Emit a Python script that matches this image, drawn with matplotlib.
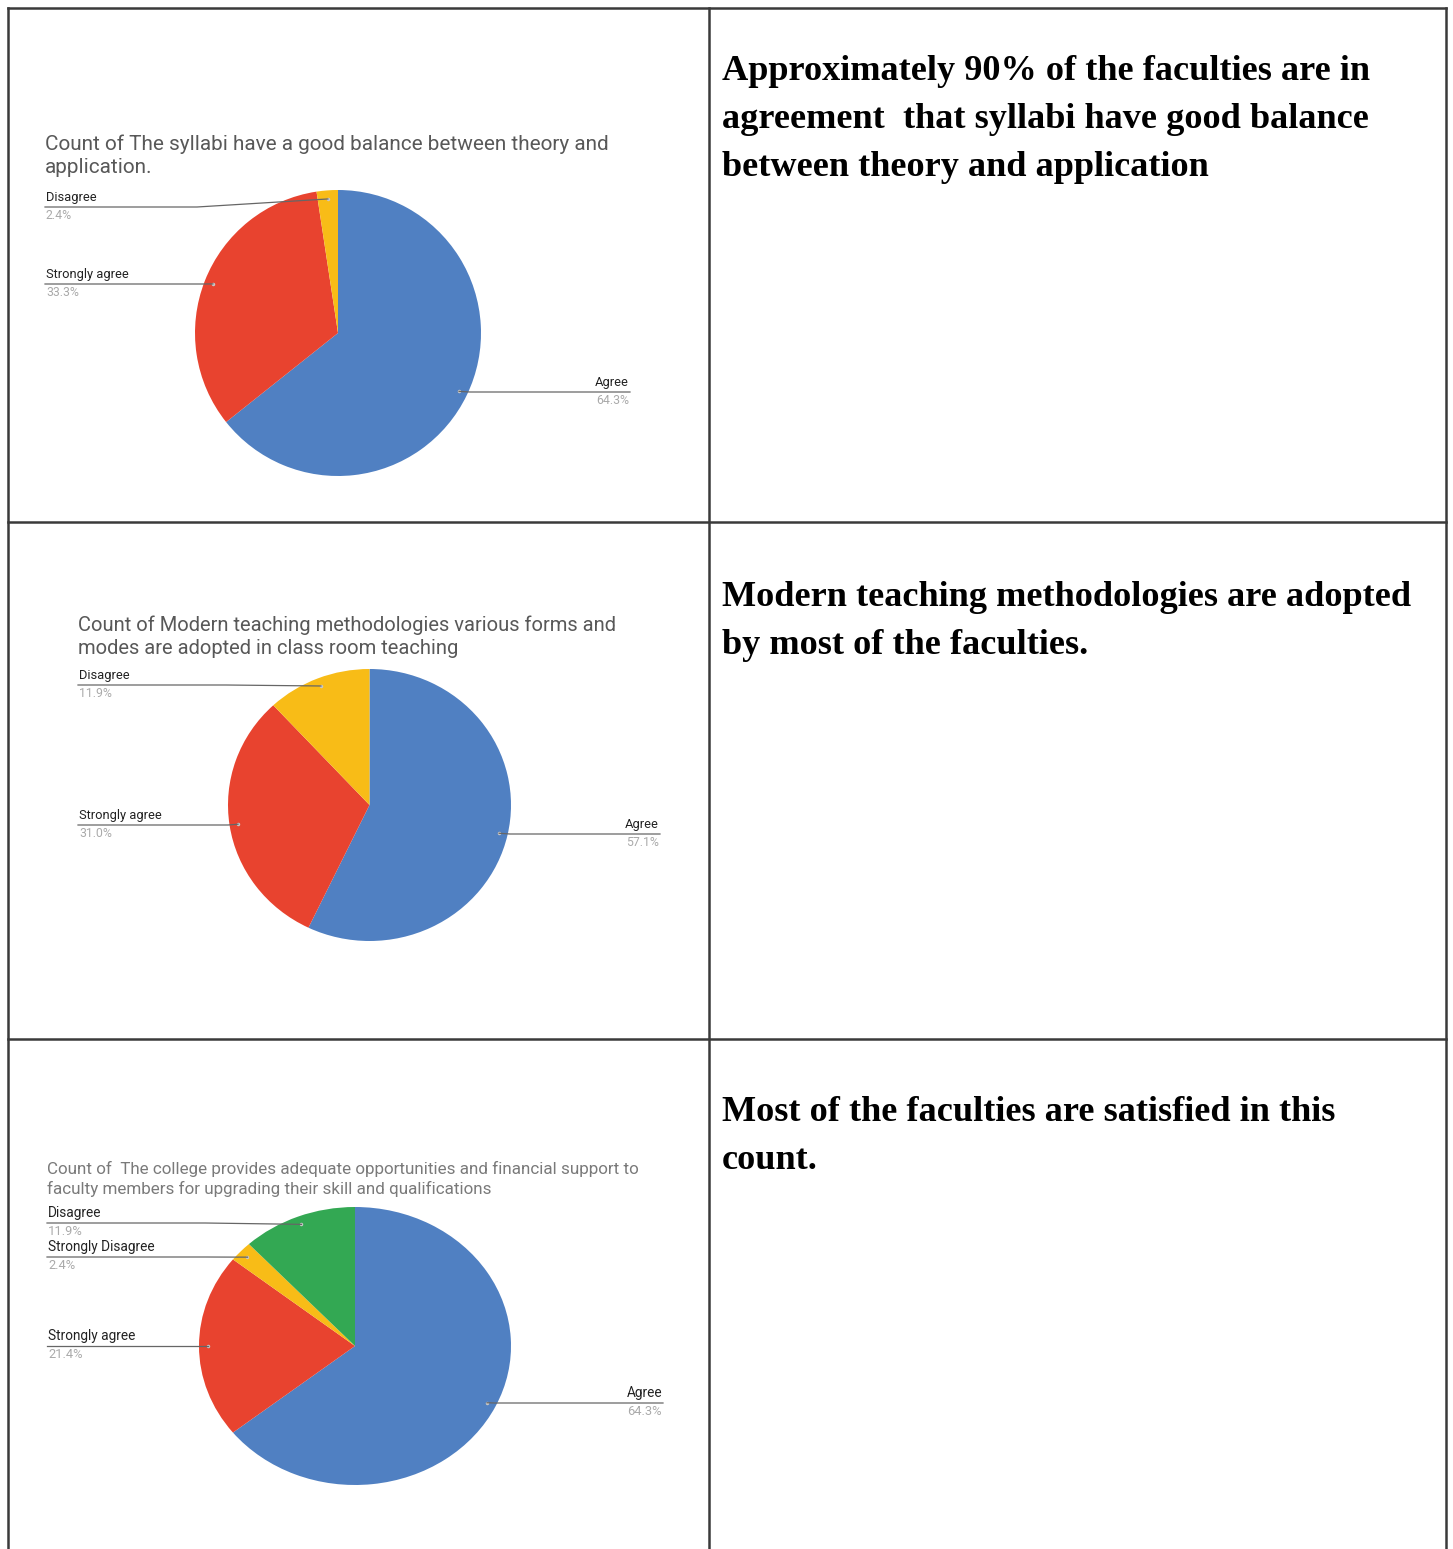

# Survey pie charts laid out in a two column table
import numpy as np
import matplotlib.pyplot as plt
from matplotlib.transforms import Affine2D

W, H = 1453, 1549

BLUE = '#5080c2'
RED = '#e8432f'
YELLOW = '#f8bc17'
GREEN = '#33a853'

# Data
labels1 = ['Agree', 'Strongly agree', 'Disagree']
values1 = [64.3, 33.3, 2.4]
colors1 = [BLUE, RED, YELLOW]
title1 = 'Count of The syllabi have a good balance between theory and\napplication.'

labels2 = ['Agree', 'Strongly agree', 'Disagree']
values2 = [57.1, 31.0, 11.9]
colors2 = [BLUE, RED, YELLOW]
title2 = 'Count of Modern teaching methodologies various forms and\nmodes are adopted in class room teaching'

labels3 = ['Agree', 'Strongly agree', 'Strongly Disagree', 'Disagree']
values3 = [64.3, 21.4, 2.4, 11.9]
colors3 = [BLUE, RED, YELLOW, GREEN]
title3 = ('Count of  The college provides adequate opportunities and financial support to\n'
          'faculty members for upgrading their skill and qualifications')

notes1 = ['Approximately 90% of the faculties are in',
          'agreement  that syllabi have good balance',
          'between theory and application']
notes2 = ['Modern teaching methodologies are adopted',
          'by most of the faculties.']
notes3 = ['Most of the faculties are satisfied in this',
          'count.']


def Y(y):
    # image rows (top down) to axes y (bottom up)
    return H - y


def draw_pie(ax, values, colors, labels, cx, cy, rx, ry, title, tx, ty, tsize,
             tcolor, lsize, label_pos):
    wedges, _ = ax.pie(values, colors=colors, startangle=90, counterclock=False,
                       center=(cx, Y(cy)), radius=rx, frame=True,
                       wedgeprops=dict(linewidth=0))
    # the screenshots squash some pies a little vertically
    sq = Affine2D().translate(-cx, -Y(cy)).scale(1, ry / rx).translate(cx, Y(cy))
    for w in wedges:
        w.set_transform(sq + ax.transData)
    ax.text(tx, Y(ty), title, fontsize=tsize, color=tcolor, va='top',
            ha='left', family='Roboto', linespacing=1.3)
    for w, lab, val, (lx, ly, side, kx) in zip(wedges, labels, values, label_pos):
        mid = np.deg2rad((w.theta1 + w.theta2) / 2)
        dx = cx + 0.94 * rx * np.cos(mid)
        dy = Y(cy) + 0.94 * ry * np.sin(mid)
        ax.plot([dx], [dy], marker='o', ms=2.5, color='#c8c8c8', mec='none')
        if side == 'left':
            ax.plot([lx, kx, dx], [Y(ly), Y(ly), dy], color='#666666', lw=0.9)
            ax.text(lx + 1, Y(ly) + 3, lab, fontsize=lsize, color='#222222',
                    ha='left', va='bottom', family='Roboto')
            ax.text(lx + 1, Y(ly) - 2, '%.1f%%' % val, fontsize=lsize - 0.5,
                    color='#aaaaaa', ha='left', va='top', family='Roboto')
        else:
            ax.plot([dx, kx, lx], [dy, Y(ly), Y(ly)], color='#666666', lw=0.9)
            ax.text(lx - 1, Y(ly) + 3, lab, fontsize=lsize, color='#222222',
                    ha='right', va='bottom', family='Roboto')
            ax.text(lx - 1, Y(ly) - 2, '%.1f%%' % val, fontsize=lsize - 0.5,
                    color='#aaaaaa', ha='right', va='top', family='Roboto')


def main():
    fig = plt.figure(figsize=(W / 100, H / 100), dpi=100)
    ax = fig.add_axes([0, 0, 1, 1])

    # table grid
    grid = dict(color='#3a3a3a', lw=1.8)
    ax.plot([8, 8], [Y(8), Y(H + 5)], **grid)
    ax.plot([709, 709], [Y(8), Y(H + 5)], **grid)
    ax.plot([1446, 1446], [Y(8), Y(H + 5)], **grid)
    for yy in [8, 522, 1039]:
        ax.plot([8, 1446], [Y(yy), Y(yy)], **grid)

    draw_pie(ax, values1, colors1, labels1, 338, 333, 143, 143, title1, 45, 134,
             14.95, '#585858', 9.3,
             [(630, 392, 'right', 470), (45, 284, 'left', 205), (45, 207, 'left', 197)])
    draw_pie(ax, values2, colors2, labels2, 369.5, 805, 141.5, 136, title2, 78, 615,
             14.5, '#585858', 9.3,
             [(660, 834, 'right', 510), (78, 825, 'left', 228), (78, 685, 'left', 226)])
    draw_pie(ax, values3, colors3, labels3, 355, 1346, 156, 139, title3, 47, 1161,
             12.25, '#7a7a7a', 9.8,
             [(663, 1403, 'right', 495), (47, 1346, 'left', 200),
              (47, 1257, 'left', 205), (47, 1223, 'left', 205)])

    for notes, y0 in [(notes1, 80), (notes2, 606), (notes3, 1121)]:
        for i, line in enumerate(notes):
            ax.text(722, Y(y0 + 48 * i), line, fontsize=26.1, fontweight='bold',
                    family='Liberation Serif', color='black', ha='left',
                    va='baseline')

    ax.set_xlim(0, W)
    ax.set_ylim(0, H)
    ax.set_aspect('auto')
    ax.axis('off')
    fig.savefig('out.png', dpi=100)


if __name__ == "__main__":
    main()
